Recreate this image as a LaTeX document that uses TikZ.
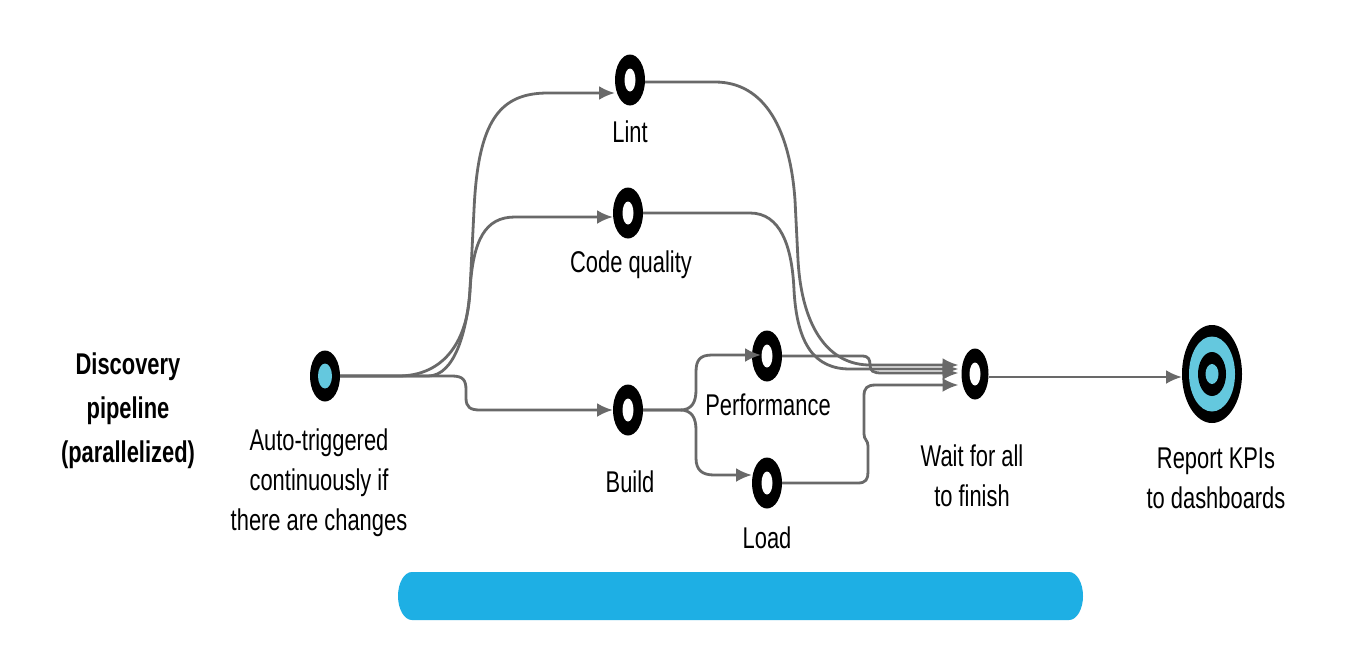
\documentclass[tikz,border=0pt]{standalone}
\usepackage{fontspec}
\setmainfont{Liberation Sans}[FakeStretch=0.73]
\usetikzlibrary{arrows.meta,shapes.geometric,calc}
\definecolor{ringcyan}{RGB}{100,200,222}
\definecolor{barblue}{RGB}{30,175,228}
\definecolor{wire}{RGB}{105,105,105}
\begin{document}
\begin{tikzpicture}[x=1pt,y=-1pt,
  ring/.style={ellipse, fill=black, inner sep=0pt, outer sep=0pt, minimum width=30pt, minimum height=51pt},
  wirestyle/.style={draw=wire, line width=2.8pt},
  arr/.style={wirestyle, -{Latex[length=16pt,width=14pt]}},
  lbl/.style={font=\fontsize{30}{40}\selectfont, inner sep=0pt, align=center},
  ]
\useasboundingbox[fill=white] (0,0) rectangle (1346,662);

% bar
\fill[barblue] (412,572) -- (1069,572) arc[start angle=-90, end angle=90, x radius=14, y radius=24]
  -- (412,620) arc[start angle=90, end angle=270, x radius=14, y radius=24] -- cycle;

% nodes
\node[ring] (start) at (325,376) {};
\node[ring] (lint) at (630,80) {};
\node[ring] (cq) at (628,213) {};
\node[ring] (build) at (628,410) {};
\node[ring] (perf) at (767,356) {};
\node[ring] (load) at (767,483) {};
\node[ring, minimum width=27pt] (wait) at (975,374) {};
\node[ring, minimum width=60pt, minimum height=98pt] (report) at (1212,374) {};
\fill[ringcyan] (start.center) ellipse [x radius=7, y radius=12.5];
\foreach \n in {lint,cq,build,perf,load,wait}
  \fill[white] (\n.center) ellipse [x radius=5.5, y radius=11.5];
\fill[ringcyan] (report.center) ellipse [x radius=23, y radius=37.5];
\fill[black] (report.center) ellipse [x radius=14, y radius=22];
\fill[ringcyan] (report.center) ellipse [x radius=6.5, y radius=10];

% connectors
\draw[arr] (start.east) -- (398,376) .. controls (445,376) and (468,340) .. (470,290)
  -- (474,210) .. controls (478,120) and (500,93) .. (548,93) -- ($(lint.west)+(0,13)$);
\draw[arr] (start.east) -- (428,376) .. controls (455,376) and (467,330) .. (470,290)
  .. controls (473,240) and (485,217) .. (515,217) -- ($(cq.west)+(0,4)$);
\draw[arr] (start.east) -- (452,376) .. controls (463,376) and (466,380) .. (466,390)
  -- (466,398) .. controls (466,407) and (470,410) .. (480,410) -- (build.west);

\draw[arr] ($(lint.east)+(0,2)$) -- (715,82) .. controls (765,82) and (790,130) .. (795,200)
  -- (798,260) .. controls (802,330) and (830,365) .. (870,365) -- ($(wait.west)+(-3,-9)$);
\draw[arr] (cq.east) -- (750,213) .. controls (780,213) and (792,245) .. (794,290)
  .. controls (797,345) and (815,369) .. (850,369) -- ($(wait.west)+(-3,-5)$);

\draw[arr] (build.east) -- (680,410) .. controls (692,410) and (696,402) .. (696,390)
  -- (696,372) .. controls (696,360) and (700,355) .. (712,355) -- ($(perf.center)+(-6,-1)$);
\draw[arr] (build.east) -- (680,410) .. controls (692,410) and (696,418) .. (696,430)
  -- (696,458) .. controls (696,470) and (702,475) .. (714,475) -- ($(load.west)+(0,-8)$);

\draw[arr] (perf.east) -- (862,356) .. controls (869,356) and (870,360) .. (870,365)
  .. controls (870,371) and (873,373) .. (882,373) -- ($(wait.west)+(-3,-1)$);
\draw[arr] (load.east) -- (858,483) .. controls (866,483) and (868,479) .. (868,472)
  -- (868,446) .. controls (868,440) and (864,440) .. (864,434)
  -- (864,396) .. controls (864,388) and (867,385) .. (876,385) -- ($(wait.west)+(-3,11)$);

\draw[arr] ($(wait.east)+(0,3)$) -- ($(report.west)+(0,3)$);

% labels
\node[lbl, font=\bfseries\fontsize{30}{44}\selectfont] (title) at (128,411) {Discovery\\pipeline\\(parallelized)};
\node[lbl] (startl) at (319,483) {Auto-triggered\\continuously if\\there are changes};
\node[lbl, anchor=base] (lintl) at (630,142) {Lint};
\node[lbl, anchor=base] (cql) at (631,272) {Code quality};
\node[lbl, anchor=base] (buildl) at (630,492) {Build};
\node[lbl, anchor=base] (perfl) at (768,415) {Performance};
\node[lbl, anchor=base] (loadl) at (767,548) {Load};
\node[lbl] (waitl) at (972,476) {Wait for all\\to finish};
\node[lbl] (reportl) at (1216,478) {Report KPIs\\to dashboards};
\end{tikzpicture}
\end{document}
